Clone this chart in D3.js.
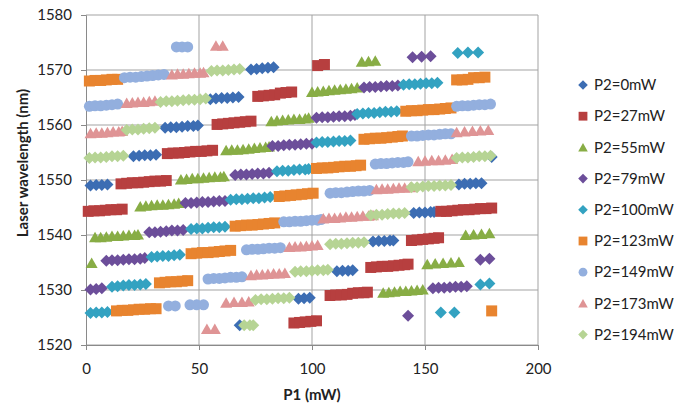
<!DOCTYPE html>
<html>
<head>
<meta charset="utf-8">
<script src="https://cdn.jsdelivr.net/npm/d3@7"></script>
<style>
  body { margin: 0; background: #fff; }
  svg { display: block; }
  text { font-family: Lato, "Open Sans", sans-serif; fill: #222; }
</style>
</head>
<body>
<svg></svg>
<script>
// P1 (mW), laser wavelength (nm) for each pump level P2
const p2_0 = [
  [2,1549.0],[4.5,1549.1],[7,1549.1],[9.5,1549.2],
  [21,1554.3],[23.5,1554.4],[26,1554.5],[28.5,1554.5],[31,1554.6],
  [35,1559.5],[37.5,1559.6],[40,1559.6],[42.5,1559.7],[45,1559.8],[47.5,1559.8],[49.5,1559.9],
  [55,1564.7],[57.5,1564.8],[60,1564.9],[62.5,1564.9],[65,1565.0],[67.5,1565.1],
  [68,1523.6],
  [73,1570.1],[75.5,1570.2],[78,1570.3],[80.5,1570.4],[83,1570.5],
  [94,1528.4],[96.5,1528.5],[99,1528.6],
  [111,1533.4],[113.5,1533.5],[116,1533.5],[118,1533.6],
  [127,1538.8],[129.5,1538.9],[132,1538.9],[134.5,1539.0],[136,1539.0],
  [145,1544.0],[147.5,1544.1],[150,1544.1],[152.5,1544.2],[154,1544.2],
  [165,1549.2],[167.5,1549.3],[170,1549.3],[172.5,1549.4],[175,1549.4],
  [179.5,1554.2]
];
const p2_27 = [
  [1,1544.3],[3.5,1544.4],[6,1544.4],[8.5,1544.5],[11,1544.6],[13.5,1544.6],[16,1544.7],
  [15.5,1549.3],[18,1549.4],[20.5,1549.5],[23,1549.5],[25.5,1549.6],[28,1549.7],[30.5,1549.8],[33,1549.8],[35.5,1549.9],
  [36,1554.8],[38.5,1554.9],[41,1554.9],[43.5,1555.0],[46,1555.1],[48.5,1555.2],[51,1555.2],[53.5,1555.3],[56,1555.4],
  [58,1560.1],[60.5,1560.2],[63,1560.3],[65.5,1560.4],[68,1560.5],[70.5,1560.6],[73,1560.7],
  [76,1565.2],[78.5,1565.3],[81,1565.4],[83.5,1565.5],[86,1565.8],[88.5,1565.9],[91,1566.0],
  [92,1524.0],[94.5,1524.1],[97,1524.2],[99.5,1524.3],[102,1524.4],
  [102.5,1570.8],[105.5,1571.0],
  [108,1529.0],[110.5,1529.1],[113,1529.1],[115.5,1529.2],[118,1529.4],[120.5,1529.5],[123,1529.5],[124.5,1529.6],
  [126,1534.1],[128.5,1534.2],[131,1534.3],[133.5,1534.3],[136,1534.4],[138.5,1534.5],[141,1534.6],[142.5,1534.7],
  [144,1539.0],[146.5,1539.1],[149,1539.2],[151.5,1539.3],[154,1539.4],[156,1539.5],
  [157,1544.3],[159.5,1544.3],[162,1544.4],[164.5,1544.5],[167,1544.6],[169.5,1544.6],[172,1544.7],[174.5,1544.8],[177,1544.8],[179.5,1544.9]
];
const p2_55 = [
  [2.5,1534.9],
  [4,1539.6],[6.5,1539.6],[9,1539.7],[11.5,1539.8],[14,1539.8],[16.5,1539.9],[19,1540.0],[21.5,1540.0],[23,1540.1],
  [24,1545.2],[26.5,1545.3],[29,1545.4],[31.5,1545.5],[34,1545.5],[36.5,1545.6],[39,1545.7],[41,1545.8],
  [42,1550.1],[44.5,1550.2],[47,1550.3],[49.5,1550.3],[52,1550.4],[54.5,1550.5],[57,1550.6],[59.5,1550.6],[61,1550.7],
  [62,1555.4],[64.5,1555.5],[67,1555.5],[69.5,1555.6],[72,1555.7],[74.5,1555.8],[77,1555.9],[79.5,1556.0],[81,1556.1],
  [82,1560.7],[84.5,1560.8],[87,1560.9],[89.5,1561.0],[92,1561.1],[94.5,1561.1],[97,1561.2],[98.5,1561.3],
  [100,1566.0],[102.5,1566.1],[105,1566.2],[107.5,1566.3],[110,1566.4],[112.5,1566.5],[115,1566.6],[117.5,1566.7],[120,1566.8],
  [122,1571.5],[125,1571.6],[128,1571.7],
  [131.5,1529.5],[134,1529.6],[136.5,1529.7],[139,1529.8],[141.5,1529.8],[144,1529.9],[146.5,1530.0],[149,1530.1],
  [151,1534.7],[154.5,1534.8],[158,1534.9],[161.5,1535.0],[165,1535.1],
  [168,1540.0],[171.5,1540.1],[175,1540.2],[178.5,1540.3]
];
const p2_79 = [
  [2,1530.1],[4.5,1530.2],[7,1530.3],
  [9,1535.3],[11.5,1535.4],[14,1535.4],[16.5,1535.5],[19,1535.6],[21.5,1535.6],[24,1535.7],[26,1535.8],
  [28,1540.5],[30.5,1540.5],[33,1540.6],[35.5,1540.7],[38,1540.8],[40.5,1540.8],[43,1540.9],
  [44,1545.8],[46.5,1545.8],[49,1545.9],[51.5,1546.0],[54,1546.0],[56.5,1546.1],[59,1546.2],[61.5,1546.2],
  [66,1550.9],[68.5,1551.0],[71,1551.0],[73.5,1551.1],[76,1551.2],[78.5,1551.2],[81,1551.3],
  [82.5,1556.2],[85,1556.2],[87.5,1556.3],[90,1556.4],[92.5,1556.4],[95,1556.5],[97.5,1556.6],[100,1556.6],
  [102,1561.3],[104.5,1561.4],[107,1561.4],[109.5,1561.5],[112,1561.6],[114.5,1561.6],[117,1561.7],[119,1561.8],
  [123,1566.8],[125.5,1566.9],[128,1566.9],[130.5,1567.0],[133,1567.1],[135.5,1567.1],[138,1567.2],
  [142.5,1525.3],
  [144.5,1572.3],[148.5,1572.4],[152.5,1572.5],
  [153.5,1530.3],[156,1530.4],[158.5,1530.4],[161,1530.5],[163.5,1530.6],[166,1530.6],[168.5,1530.7],
  [174.5,1535.5],[178.5,1535.7]
];
const p2_100 = [
  [2,1525.8],[4.5,1525.9],[7,1525.9],[9.5,1526.0],
  [11.5,1530.6],[14,1530.7],[16.5,1530.8],[19,1530.9],[21.5,1530.9],[24,1531.0],[26.5,1531.1],
  [29,1536.0],[31.5,1536.1],[34,1536.2],[36.5,1536.2],[39,1536.3],[41.5,1536.4],
  [46.5,1541.1],[49,1541.2],[51.5,1541.2],[54,1541.3],[56.5,1541.4],[59,1541.4],[61.5,1541.5],
  [64,1546.4],[66.5,1546.5],[69,1546.5],[71.5,1546.6],[74,1546.7],[76.5,1546.7],[79,1546.8],[81.5,1546.9],
  [84.5,1551.6],[87,1551.7],[89.5,1551.7],[92,1551.8],[94.5,1551.9],[97,1551.9],[98.5,1552.0],
  [102,1556.8],[104.5,1556.9],[107,1556.9],[109.5,1557.0],[112,1557.1],[114.5,1557.1],[117,1557.2],
  [120,1562.0],[122.5,1562.1],[125,1562.2],[127.5,1562.2],[130,1562.3],[132.5,1562.4],[135,1562.4],[137.5,1562.5],
  [140.5,1567.3],[143,1567.4],[145.5,1567.4],[148,1567.5],[150.5,1567.6],[153,1567.6],[155.5,1567.7],
  [157,1525.9],[163,1525.9],
  [164.5,1573.1],[169,1573.2],[173.5,1573.2],
  [174.5,1531.0],[178.5,1531.2]
];
const p2_123 = [
  [1.5,1568.0],[4,1568.1],[6.5,1568.1],[9,1568.2],[11.5,1568.3],[14,1568.3],
  [13.5,1526.2],[16,1526.3],[18.5,1526.3],[21,1526.4],[23.5,1526.5],[26,1526.5],[28.5,1526.6],[31,1526.6],
  [32.5,1531.3],[35,1531.4],[37.5,1531.5],[40,1531.5],[42.5,1531.6],[45,1531.7],
  [46.5,1536.6],[49,1536.7],[51.5,1536.8],[54,1536.8],[56.5,1536.9],[59,1537.0],[61.5,1537.1],[64,1537.2],
  [66,1541.6],[68.5,1541.7],[71,1541.8],[73.5,1541.8],[76,1541.9],[78.5,1542.0],[81,1542.1],[83.5,1542.2],
  [85.5,1547.0],[88,1547.1],[90.5,1547.2],[93,1547.3],[95.5,1547.4],[98,1547.5],[100.5,1547.6],
  [102,1552.1],[104.5,1552.2],[107,1552.2],[109.5,1552.3],[112,1552.4],[114.5,1552.5],[117,1552.5],[119.5,1552.6],[121.5,1552.7],
  [123,1557.4],[125.5,1557.5],[128,1557.6],[130.5,1557.6],[133,1557.7],[135.5,1557.8],[138,1557.9],[140,1558.0],
  [141.5,1562.5],[144,1562.6],[146.5,1562.6],[149,1562.7],[151.5,1562.8],[154,1562.8],[156.5,1562.9],[159,1563.0],[161.5,1563.1],
  [164,1568.2],[166.5,1568.2],[169,1568.3],[171.5,1568.6],[174,1568.6],[176.5,1568.7],
  [179.5,1526.2]
];
const p2_149 = [
  [1.5,1563.4],[4,1563.5],[6.5,1563.5],[9,1563.6],[11.5,1563.7],[14,1563.8],
  [17,1568.6],[19.5,1568.7],[22,1568.7],[24.5,1568.8],[27,1568.9],[29.5,1569.0],[32,1569.1],[34.5,1569.2],
  [36.5,1527.1],[39.5,1527.1],
  [40,1574.2],[42.5,1574.2],[45,1574.2],
  [46,1527.3],[49,1527.3],[52,1527.3],
  [54,1532.0],[56.5,1532.1],[59,1532.1],[61.5,1532.2],[64,1532.3],[66.5,1532.3],[69,1532.4],
  [71,1537.3],[73.5,1537.4],[76,1537.4],[78.5,1537.5],[81,1537.6],[83.5,1537.6],[86,1537.7],
  [87.5,1542.4],[90,1542.4],[92.5,1542.5],[95,1542.5],[97.5,1542.6],[100,1542.7],[102.5,1542.7],[104,1542.8],
  [108,1547.6],[110.5,1547.7],[113,1547.7],[115.5,1547.8],[118,1547.9],[120.5,1548.0],[123,1548.0],[125.5,1548.1],
  [128,1552.9],[130.5,1553.0],[133,1553.0],[135.5,1553.1],[138,1553.2],[140.5,1553.2],[142.5,1553.3],
  [144,1558.0],[146.5,1558.0],[149,1558.1],[151.5,1558.2],[154,1558.2],[156.5,1558.3],[159,1558.4],[161.5,1558.4],
  [164,1563.4],[166.5,1563.5],[169,1563.5],[171.5,1563.6],[174,1563.7],[176.5,1563.7],[179,1563.8]
];
const p2_173 = [
  [2,1558.5],[4.5,1558.6],[7,1558.6],[9.5,1558.7],[12,1558.8],[14.5,1558.8],[16,1558.9],
  [18,1564.0],[20.5,1564.1],[23,1564.2],[25.5,1564.2],[28,1564.3],[30.5,1564.4],
  [38,1569.2],[40.5,1569.3],[43,1569.3],[45.5,1569.4],[48,1569.5],[50.5,1569.5],[52,1569.6],
  [53.5,1522.9],[57,1522.9],
  [57.5,1574.4],[60.5,1574.4],
  [62,1527.7],[65.5,1527.8],[69,1527.8],[72,1527.9],
  [73,1532.7],[75.5,1532.8],[78,1532.8],[80.5,1532.9],[83,1533.0],[85.5,1533.0],[88,1533.1],
  [90,1537.8],[92.5,1537.9],[95,1537.9],[97.5,1538.0],[100,1538.1],[102.5,1538.2],
  [105,1543.0],[107.5,1543.1],[110,1543.1],[112.5,1543.2],[115,1543.3],[117.5,1543.3],[120,1543.4],[122.5,1543.5],[125,1543.5],[127,1543.6],
  [128.5,1548.3],[131,1548.4],[133.5,1548.4],[136,1548.5],[138.5,1548.6],[141,1548.6],[143.5,1548.7],
  [147,1553.4],[150,1553.5],[153,1553.6],[156,1553.6],[159,1553.7],[162,1553.8],
  [164,1558.7],[167.5,1558.8],[171,1558.9],[174.5,1559.0],[178,1559.1]
];
const p2_194 = [
  [1.5,1554.0],[4,1554.1],[6.5,1554.1],[9,1554.2],[11.5,1554.3],[14,1554.3],[16.5,1554.4],
  [18,1559.1],[20.5,1559.2],[23,1559.2],[25.5,1559.3],[28,1559.4],[30.5,1559.5],
  [33,1564.2],[35.5,1564.3],[38,1564.3],[40.5,1564.4],[43,1564.5],[45.5,1564.6],[48,1564.6],[50.5,1564.7],[53,1564.8],
  [55.5,1569.8],[58,1569.9],[60.5,1569.9],[63,1570.0],[65.5,1570.1],[68,1570.2],
  [70,1523.6],[72.5,1523.6],[74,1523.6],
  [75,1528.2],[77.5,1528.3],[80,1528.3],[82.5,1528.4],[85,1528.5],[87.5,1528.5],[90,1528.6],
  [92.5,1533.3],[95,1533.4],[97.5,1533.4],[100,1533.5],[102.5,1533.6],[105,1533.6],[107,1533.7],
  [108,1538.3],[110.5,1538.4],[113,1538.4],[115.5,1538.5],[118,1538.6],[120.5,1538.6],[123,1538.7],
  [126,1543.6],[128.5,1543.7],[131,1543.7],[133.5,1543.8],[136,1543.9],[138.5,1543.9],[141,1544.0],
  [144,1548.7],[146.5,1548.7],[149,1548.8],[151.5,1548.9],[154,1548.9],[156.5,1549.0],[159,1549.0],[161.5,1549.1],
  [164,1554.0],[166.5,1554.1],[169,1554.1],[171.5,1554.2],[174,1554.3],[176.5,1554.3],[179,1554.4]
];

const seriesNames = ["P2=0mW","P2=27mW","P2=55mW","P2=79mW","P2=100mW","P2=123mW","P2=149mW","P2=173mW","P2=194mW"];
const seriesData = [p2_0, p2_27, p2_55, p2_79, p2_100, p2_123, p2_149, p2_173, p2_194];
const seriesColors = ["#3c6db3","#b73f3f","#88ad45","#6c4e9a","#33a2c1","#e8842f","#93afde","#df9495","#b6d494"];
const seriesShapes = ["diamond","square","triangle","diamond","diamond","square","circle","triangle","diamond"];
const xTicks = [0, 50, 100, 150, 200];
const yTicks = [1520, 1530, 1540, 1550, 1560, 1570, 1580];

const W = 690, H = 405;
const plot = { left: 86, right: 538, top: 15, bottom: 345 };

const svg = d3.select("svg").attr("width", W).attr("height", H);

const x = d3.scaleLinear().domain([0, 200]).range([plot.left, plot.right]);
const y = d3.scaleLinear().domain([1520, 1580]).range([plot.bottom, plot.top]);

// marker outlines, sized like the excel defaults
const shapePath = {
  diamond: "M0,-6L6,0L0,6L-6,0Z",
  square: "M-5.5,-5.5H5.5V5.5H-5.5Z",
  triangle: "M0,-5.5L6,5L-6,5Z",
  circle: d3.symbol(d3.symbolCircle, 95)()
};

// gridlines
svg.append("g")
  .selectAll("line.h")
  .data(yTicks)
  .join("line")
    .attr("x1", plot.left).attr("x2", plot.right)
    .attr("y1", d => y(d)).attr("y2", d => y(d))
    .attr("stroke", "#a3a3a3").attr("stroke-width", 1);
svg.append("g")
  .selectAll("line.v")
  .data(xTicks.slice(1))
  .join("line")
    .attr("x1", d => x(d)).attr("x2", d => x(d))
    .attr("y1", plot.top).attr("y2", plot.bottom)
    .attr("stroke", "#a3a3a3").attr("stroke-width", 1);

// axes
const xAxis = svg.append("g")
  .attr("transform", `translate(0,${plot.bottom})`)
  .call(d3.axisBottom(x).tickValues(xTicks).tickSize(5).tickPadding(13));
const yAxis = svg.append("g")
  .attr("transform", `translate(${plot.left},0)`)
  .call(d3.axisLeft(y).tickValues(yTicks).tickSize(5).tickPadding(9).tickFormat(d3.format("d")));
[xAxis, yAxis].forEach(g => {
  g.select(".domain").attr("stroke", "#8a8a8a");
  g.selectAll(".tick line").attr("stroke", "#8a8a8a");
  g.selectAll(".tick text").attr("font-size", 15).attr("font-family", "Lato, sans-serif").attr("fill", "#333");
});

// points
seriesData.forEach((data, i) => {
  svg.append("g")
    .selectAll("path")
    .data(data)
    .join("path")
      .attr("transform", d => `translate(${x(d[0])},${y(d[1])})`)
      .attr("d", shapePath[seriesShapes[i]])
      .attr("fill", seriesColors[i]);
});

// axis titles
svg.append("text")
  .attr("x", (plot.left + plot.right) / 2).attr("y", 400)
  .attr("text-anchor", "middle")
  .attr("font-size", 15).attr("font-weight", "bold")
  .text("P1 (mW)");
svg.append("text")
  .attr("transform", "translate(28,163) rotate(-90)")
  .attr("text-anchor", "middle")
  .attr("font-size", 15).attr("font-weight", "bold")
  .text("Laser wavelength (nm)");

// legend
const legend = svg.append("g")
  .selectAll("g")
  .data(seriesNames)
  .join("g")
    .attr("transform", (d, i) => `translate(583,${85 + i * 31.2})`);
legend.append("path")
  .attr("d", (d, i) => shapePath[seriesShapes[i]])
  .attr("transform", "scale(0.8)")
  .attr("fill", (d, i) => seriesColors[i]);
legend.append("text")
  .attr("x", 11).attr("dy", "0.35em")
  .attr("font-size", 15)
  .text(d => d);
</script>
</body>
</html>
